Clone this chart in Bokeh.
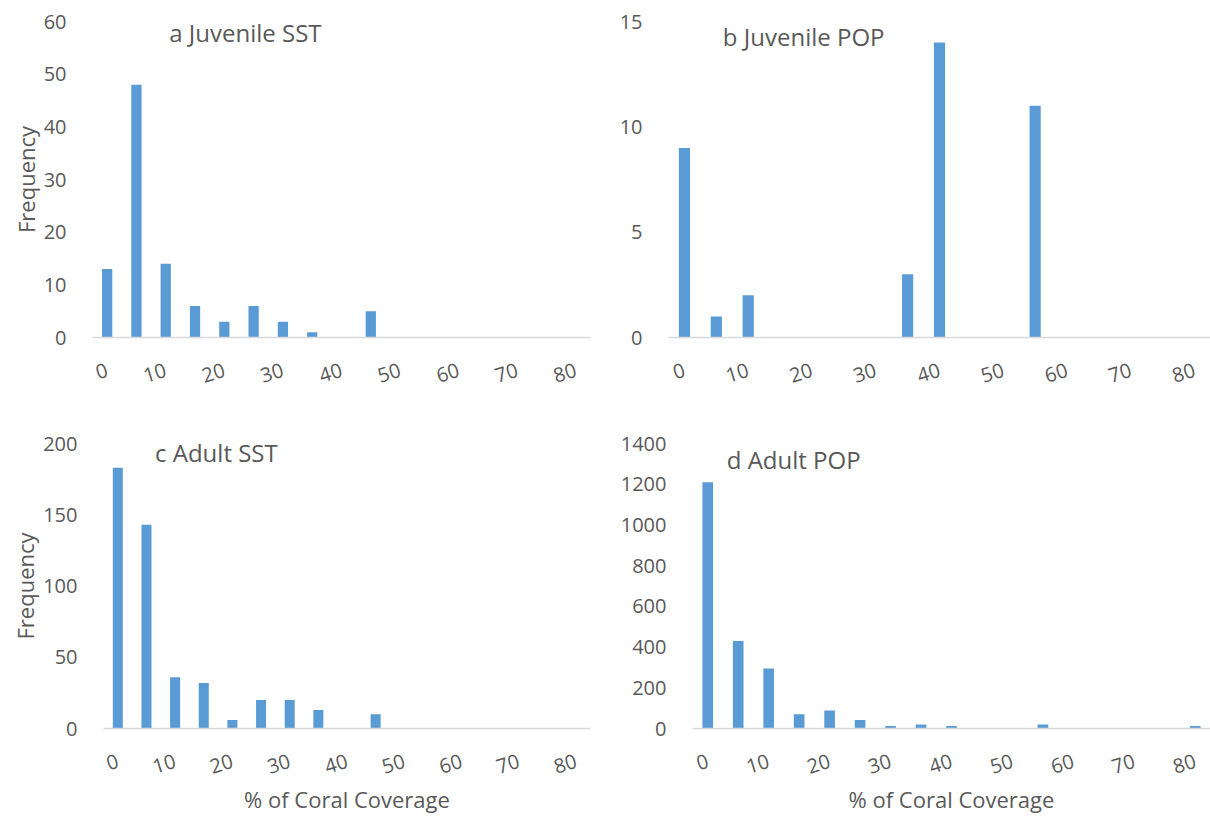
from bokeh.plotting import figure
from bokeh.layouts import column, row
from bokeh.models import FixedTicker, Label, Range1d, ColumnDataSource
from bokeh.embed import file_html
from bokeh.resources import INLINE

# ---- data ----
bins = [0, 5, 10, 15, 20, 25, 30, 35, 40, 45, 50, 55, 60, 65, 70, 75, 80]
x_tick_values = [0, 10, 20, 30, 40, 50, 60, 70, 80]
x_tick_labels = ["0", "10", "20", "30", "40", "50", "60", "70", "80"]

juvenile_sst = [13, 48, 14, 6, 3, 6, 3, 1, 0, 5, 0, 0, 0, 0, 0, 0, 0]
juvenile_pop = [9, 1, 2, 0, 0, 0, 0, 3, 14, 0, 0, 11, 0, 0, 0, 0, 0]
adult_sst = [183, 143, 36, 32, 6, 20, 20, 13, 0, 10, 0, 0, 0, 0, 0, 0, 0]
adult_pop = [1210, 430, 295, 70, 88, 42, 12, 20, 12, 0, 0, 20, 0, 0, 0, 0, 12]

titles = ["a Juvenile SST", "b Juvenile POP", "c Adult SST", "d Adult POP"]
y_ticks_a = [0, 10, 20, 30, 40, 50, 60]
y_ticks_b = [0, 5, 10, 15]
y_ticks_c = [0, 50, 100, 150, 200]
y_ticks_d = [0, 200, 400, 600, 800, 1000, 1200, 1400]
y_label = "Frequency"
x_label = "% of Coral Coverage"

BAR = "#5B9BD5"
TXT = "#595959"
AXIS = "#D9D9D9"
FONT = "Open Sans"


def panel(values, yticks, title, title_pos, size, borders, show_ylabel, show_xlabel):
    left, right, top, bottom = borders
    p = figure(width=size[0], height=size[1], output_backend="svg", toolbar_location=None,
               x_range=Range1d(-2.5, 82.5), y_range=Range1d(yticks[0], yticks[-1]),
               min_border_left=left, min_border_right=right,
               min_border_top=top, min_border_bottom=bottom)
    src = ColumnDataSource(dict(x=bins, top=values))
    p.vbar(x="x", top="top", width=1.75, bottom=0, source=src,
           fill_color=BAR, line_color=None)
    p.outline_line_color = None
    p.xgrid.grid_line_color = None
    p.ygrid.grid_line_color = None
    p.background_fill_color = "white"
    p.border_fill_color = "white"

    xa = p.xaxis[0]
    xa.ticker = FixedTicker(ticks=x_tick_values)
    xa.major_label_overrides = {v: s for v, s in zip(x_tick_values, x_tick_labels)}
    xa.major_label_orientation = 0.3
    xa.major_tick_line_color = None
    xa.minor_tick_line_color = None
    xa.axis_line_color = AXIS
    xa.axis_line_width = 1.5
    xa.major_label_standoff = 26
    xa.major_label_text_font = FONT
    xa.major_label_text_font_size = "20px"
    xa.major_label_text_color = TXT
    if show_xlabel:
        xa.axis_label = x_label
        xa.axis_label_text_font = FONT
        xa.axis_label_text_font_style = "normal"
        xa.axis_label_text_font_size = "22px"
        xa.axis_label_text_color = TXT
        xa.axis_label_standoff = 0

    ya = p.yaxis[0]
    ya.ticker = FixedTicker(ticks=yticks)
    ya.axis_line_color = None
    ya.major_tick_line_color = None
    ya.minor_tick_line_color = None
    ya.major_label_standoff = 20
    ya.major_label_text_font = FONT
    ya.major_label_text_font_size = "20px"
    ya.major_label_text_color = TXT
    if show_ylabel:
        ya.axis_label = y_label
        ya.axis_label_text_font = FONT
        ya.axis_label_text_font_style = "normal"
        ya.axis_label_text_font_size = "22px"
        ya.axis_label_text_color = TXT
        ya.axis_label_standoff = 0

    p.add_layout(Label(x=title_pos[0], y=title_pos[1], text=title,
                       text_font=FONT, text_font_size="24px", text_color=TXT,
                       text_align="center", text_baseline="middle"))
    return p


TOP_H, BOT_H, W = 416, 400, 605
pa = panel(juvenile_sst, y_ticks_a, titles[0], (23.6, 57.9), (W, TOP_H), (92, 15, 21, 77), True, False)
pb = panel(juvenile_pop, y_ticks_b, titles[1], (18.7, 14.3), (W, TOP_H), (63, 0, 18, 79), False, False)
pc = panel(adult_sst, y_ticks_c, titles[2], (17.2, 193.7), (W, BOT_H), (103, 15, 27, 85), True, True)
pd = panel(adult_pop, y_ticks_d, titles[3], (14.1, 1319), (W, BOT_H), (87, 0, 21, 85), False, True)

layout = column(row(pa, pb), row(pc, pd))

open("out.html", "w").write(file_html(layout, INLINE))
